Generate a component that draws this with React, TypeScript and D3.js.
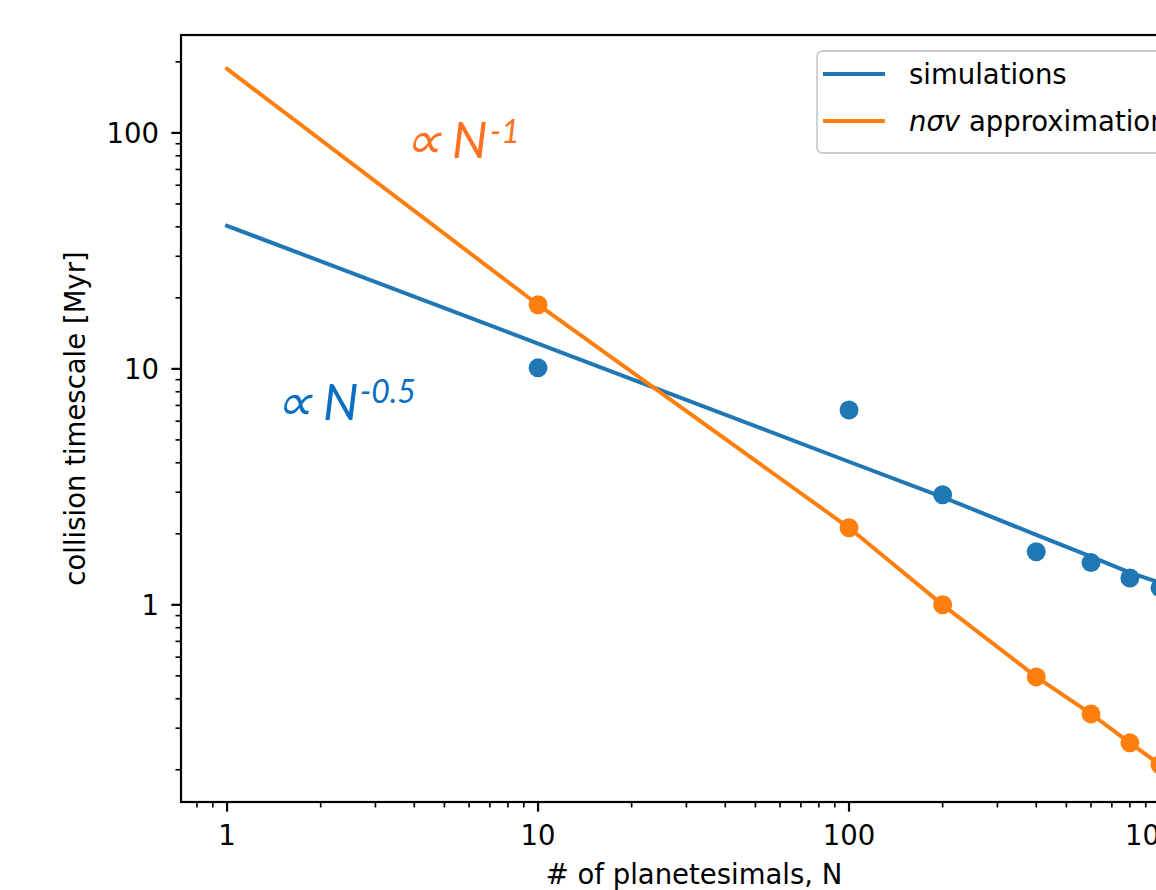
import React from 'react';
import * as d3 from 'd3';

// values (log-log)
const simN = [10, 100, 200, 400, 600, 800, 1000];
const simTime = [10.1, 6.7, 2.93, 1.68, 1.51, 1.3, 1.18];
const simLineN = [1, 10, 100, 200, 400, 600, 800, 1000];
const simLineTime = [40.4, 12.8, 4.04, 2.86, 1.98, 1.6, 1.37, 1.24];
const approxN = [10, 100, 200, 400, 600, 800, 1000];
const approxTime = [18.7, 2.12, 1.0, 0.495, 0.345, 0.26, 0.21];
const approxLineN = [1, 10, 100, 200, 400, 600, 800, 1000];
const approxLineTime = [186.7, 18.7, 2.12, 1.0, 0.495, 0.345, 0.26, 0.21];
const xMajor = [1, 10, 100, 1000];
const yMajor = [1, 10, 100];
const xLabel = '# of planetesimals, N';
const yLabel = 'collision timescale [Myr]';

const blue = '#1f77b4', orange = '#ff7f0e';
const font = 'DejaVu Sans, sans-serif';
const fs = 27.5;

const minorTicks = (dom: number[]) => {
  const out: number[] = [];
  for (let d = -2; d <= 4; d++)
    for (let k = 2; k <= 9; k++) {
      const v = k * Math.pow(10, d);
      if (v >= dom[0] && v <= dom[1]) out.push(v);
    }
  return out;
};

const App = () => {
  const margin = { left: 181, top: 35, right: 1207, bottom: 802 };
  const xDom = [0.711, 1416], yDom = [0.146, 260];
  const x = d3.scaleLog().domain(xDom).range([margin.left, margin.right]);
  const y = d3.scaleLog().domain(yDom).range([margin.bottom, margin.top]);
  const line = d3.line<[number, number]>().x(d => x(d[0])).y(d => y(d[1]));

  const simLine = line(simLineN.map((n, i) => [n, simLineTime[i]]) as [number, number][]);
  const appLine = line(approxLineN.map((n, i) => [n, approxLineTime[i]]) as [number, number][]);

  return (
    <svg width={1156} height={890} style={{ position: 'absolute', left: 0, top: 0, background: '#fff' }}
      fontFamily={font}>
      <defs>
        <clipPath id="plot">
          <rect x={margin.left} y={margin.top} width={margin.right - margin.left} height={margin.bottom - margin.top} />
        </clipPath>
      </defs>

      {/* x ticks */}
      {xMajor.map(v => (
        <g key={'xm' + v}>
          <line x1={x(v)} x2={x(v)} y1={margin.bottom} y2={margin.bottom + 9.6} stroke="#000" strokeWidth={2.2} />
          <text x={x(v)} y={845} textAnchor="middle" fontSize={fs} fill="#000">{v}</text>
        </g>
      ))}
      {minorTicks(xDom).map(v => (
        <line key={'xn' + v} x1={x(v)} x2={x(v)} y1={margin.bottom} y2={margin.bottom + 5.5} stroke="#000" strokeWidth={1.65} />
      ))}

      {/* y ticks */}
      {yMajor.map(v => (
        <g key={'ym' + v}>
          <line x1={margin.left - 9.6} x2={margin.left} y1={y(v)} y2={y(v)} stroke="#000" strokeWidth={2.2} />
          <text x={margin.left - 22} y={y(v) + 10} textAnchor="end" fontSize={fs} fill="#000">{v}</text>
        </g>
      ))}
      {minorTicks(yDom).map(v => (
        <line key={'yn' + v} x1={margin.left - 5.5} x2={margin.left} y1={y(v)} y2={y(v)} stroke="#000" strokeWidth={1.65} />
      ))}

      {/* data */}
      <g clipPath="url(#plot)">
        <path d={simLine || ''} fill="none" stroke={blue} strokeWidth={4} strokeLinecap="square" />
        <path d={appLine || ''} fill="none" stroke={orange} strokeWidth={4} strokeLinecap="square" />
        {simN.map((n, i) => (
          <circle key={'s' + n} cx={x(n)} cy={y(simTime[i])} r={9.5} fill={blue} />
        ))}
        {approxN.map((n, i) => (
          <circle key={'a' + n} cx={x(n)} cy={y(approxTime[i])} r={9.5} fill={orange} />
        ))}
      </g>

      {/* axes frame */}
      <rect x={margin.left} y={margin.top} width={margin.right - margin.left} height={margin.bottom - margin.top}
        fill="none" stroke="#000" strokeWidth={2.2} />

      {/* axis labels */}
      <text x={(margin.left + margin.right) / 2} y={884} textAnchor="middle" fontSize={fs} fill="#000">{xLabel}</text>
      <text transform={`translate(85, ${(margin.top + margin.bottom) / 2}) rotate(-90)`} textAnchor="middle"
        fontSize={fs} fill="#000">{yLabel}</text>

      {/* legend */}
      <g>
        <rect x={817} y={51} width={420} height={102} rx={5.5} fill="#fff" fillOpacity={0.8} stroke="#cccccc" strokeWidth={1.8} />
        <line x1={823} x2={885} y1={74} y2={74} stroke={blue} strokeWidth={4} />
        <text x={909} y={84} fontSize={fs} fill="#000">simulations</text>
        <line x1={823} x2={885} y1={121} y2={121} stroke={orange} strokeWidth={4} />
        <text x={909} y={131} fontSize={fs} fill="#000">
          <tspan fontStyle="italic">nσv</tspan> approximation
        </text>
      </g>

      {/* power-law annotations */}
      <g fontFamily="Lato, 'Open Sans', sans-serif" fontStyle="italic">
        <text x={404} y={158} fontSize={52} fontWeight={300} fill="#ff7020">∝</text>
        <text x={452} y={158} fontSize={50} fill="#ff7020">N</text>
        <text x={490} y={143} fontSize={32} fill="#ff7020">-1</text>
        <text x={275} y={420} fontSize={52} fontWeight={300} fill="#0a6fc2">∝</text>
        <text x={323} y={420} fontSize={50} fill="#0a6fc2">N</text>
        <text x={360} y={403} fontSize={32} fill="#0a6fc2">-0.5</text>
      </g>
    </svg>
  );
};

export default App;
